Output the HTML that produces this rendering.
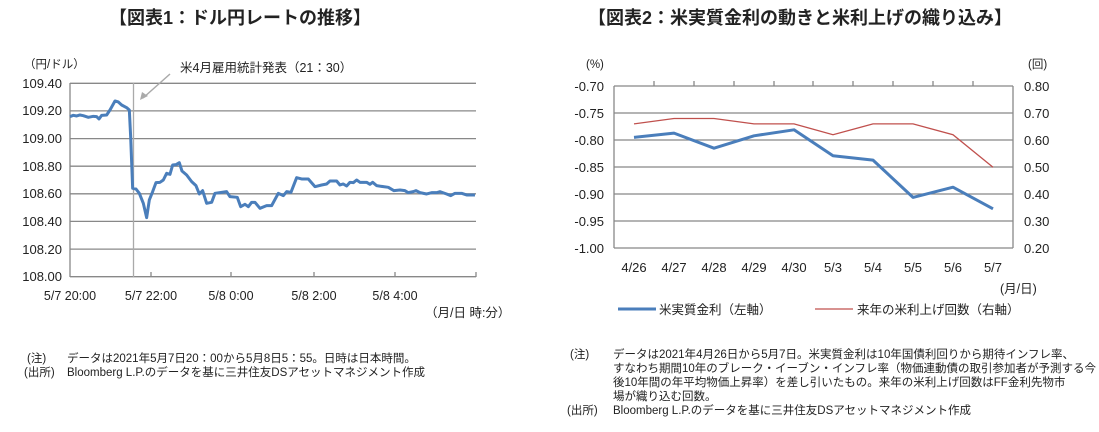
<!DOCTYPE html><html><head><meta charset="utf-8"><style>
body{margin:0;background:#fff;width:1099px;height:427px;overflow:hidden}
text{font-family:"Liberation Sans","Noto Sans CJK JP",sans-serif;fill:#222}
</style></head><body>
<svg width="1099" height="427" viewBox="0 0 1099 427" xmlns="http://www.w3.org/2000/svg">
<text x="240" y="24" font-size="18" font-weight="bold" text-anchor="middle">【図表1：ドル円レートの推移】</text>
<text x="800" y="24" font-size="18" font-weight="bold" text-anchor="middle">【図表2：米実質金利の動きと米利上げの織り込み】</text>
<g stroke="#888" stroke-width="1.3">
<line x1="70" x2="476" y1="83.3" y2="83.3"/><line x1="70" x2="476" y1="110.9" y2="110.9"/><line x1="70" x2="476" y1="138.6" y2="138.6"/><line x1="70" x2="476" y1="166.2" y2="166.2"/><line x1="70" x2="476" y1="193.8" y2="193.8"/><line x1="70" x2="476" y1="221.4" y2="221.4"/><line x1="70" x2="476" y1="249.1" y2="249.1"/><line x1="70" x2="476" y1="276.7" y2="276.7"/>
<line x1="70" x2="70" y1="83" y2="277"/>
<line x1="151" x2="151" y1="277" y2="272"/><line x1="231" x2="231" y1="277" y2="272"/><line x1="314" x2="314" y1="277" y2="272"/><line x1="395" x2="395" y1="277" y2="272"/><line x1="476" x2="476" y1="277" y2="272"/>
</g>
<line x1="133.5" x2="133.5" y1="83" y2="277" stroke="#aaa" stroke-width="1.3"/>
<line x1="170" y1="74" x2="143" y2="98" stroke="#aaa" stroke-width="1.5"/>
<polygon points="140,100 142,92 148,96" fill="#aaa"/>
<text x="180" y="72" font-size="12.5">米4月雇用統計発表（21：30）</text>
<g font-size="13" text-anchor="end"><text x="62" y="88">109.40</text><text x="62" y="115">109.20</text><text x="62" y="143">109.00</text><text x="62" y="171">108.80</text><text x="62" y="198">108.60</text><text x="62" y="226">108.40</text><text x="62" y="254">108.20</text><text x="62" y="281">108.00</text></g>
<text x="24" y="68" font-size="11.5">（円/ドル）</text>
<g font-size="12.5" text-anchor="middle"><text x="70" y="300">5/7 20:00</text><text x="151" y="300">5/7 22:00</text><text x="231" y="300">5/8 0:00</text><text x="314" y="300">5/8 2:00</text><text x="395" y="300">5/8 4:00</text></g>
<text x="425" y="317" font-size="12.5">（月/日 時:分）</text>
<g transform="translate(0,40) scale(0.3333)"><polyline fill="none" stroke="#4a7ebb" stroke-width="3" vector-effect="non-scaling-stroke" stroke-linejoin="round" points="210,230 220,226 230,228 240,225 250,227 265,232 280,229 290,230 297,237 305,226 320,225 330,210 345,183 355,186 365,195 380,203 388,210 392,290 398,445 408,447 418,460 430,490 440,533 448,480 458,455 468,428 480,427 490,420 500,400 510,403 518,375 528,374 538,368 546,393 560,405 575,425 588,437 598,462 608,452 620,490 635,487 645,460 660,458 680,455 690,470 712,472 722,500 735,493 745,500 755,487 765,487 780,505 800,497 815,497 835,460 850,467 860,455 873,457 890,413 905,417 925,417 945,440 965,435 980,432 990,423 1010,423 1020,435 1030,432 1040,438 1050,427 1060,428 1070,420 1080,427 1100,427 1110,433 1118,427 1130,437 1150,440 1165,442 1182,452 1200,450 1215,452 1225,458 1240,455 1248,452 1260,458 1280,462 1295,458 1310,458 1320,455 1340,462 1352,467 1365,460 1385,460 1400,465 1425,465"/></g>
<g font-size="11.5"><text x="27" y="362">(注)</text><text x="67" y="362">データは2021年5月7日20：00から5月8日5：55。日時は日本時間。</text><text x="24" y="376">(出所)</text><text x="67" y="376">Bloomberg L.P.のデータを基に三井住友DSアセットマネジメント作成</text></g>

<g stroke="#888" stroke-width="1.3">
<line x1="614" x2="1013" y1="86" y2="86"/><line x1="614" x2="1013" y1="113" y2="113"/><line x1="614" x2="1013" y1="140" y2="140"/><line x1="614" x2="1013" y1="167" y2="167"/><line x1="614" x2="1013" y1="194" y2="194"/><line x1="614" x2="1013" y1="221" y2="221"/><line x1="614" x2="1013" y1="248" y2="248"/>
<line x1="614" x2="614" y1="86" y2="248"/><line x1="1013" x2="1013" y1="86" y2="248"/>
<line x1="654" x2="654" y1="86" y2="81"/><line x1="694" x2="694" y1="86" y2="81"/><line x1="734" x2="734" y1="86" y2="81"/><line x1="774" x2="774" y1="86" y2="81"/><line x1="813" x2="813" y1="86" y2="81"/><line x1="853" x2="853" y1="86" y2="81"/><line x1="893" x2="893" y1="86" y2="81"/><line x1="933" x2="933" y1="86" y2="81"/><line x1="973" x2="973" y1="86" y2="81"/>
</g>
<g font-size="13" text-anchor="end"><text x="604" y="91">-0.70</text><text x="604" y="118">-0.75</text><text x="604" y="145">-0.80</text><text x="604" y="172">-0.85</text><text x="604" y="199">-0.90</text><text x="604" y="226">-0.95</text><text x="604" y="253">-1.00</text></g>
<g font-size="13"><text x="1024" y="91">0.80</text><text x="1024" y="118">0.70</text><text x="1024" y="145">0.60</text><text x="1024" y="172">0.50</text><text x="1024" y="199">0.40</text><text x="1024" y="226">0.30</text><text x="1024" y="253">0.20</text></g>
<text x="586" y="68" font-size="11.5">(%)</text><text x="1028" y="68" font-size="11.5">(回)</text>
<g font-size="13" text-anchor="middle"><text x="634" y="272">4/26</text><text x="674" y="272">4/27</text><text x="714" y="272">4/28</text><text x="754" y="272">4/29</text><text x="794" y="272">4/30</text><text x="833" y="272">5/3</text><text x="873" y="272">5/4</text><text x="913" y="272">5/5</text><text x="953" y="272">5/6</text><text x="993" y="272">5/7</text></g>
<text x="1000" y="293" font-size="12.5">(月/日)</text>
<polyline fill="none" stroke="#c0504d" stroke-width="1.3" points="634,123.9 674,118.5 714,118.5 754,123.9 794,123.9 833,134.7 873,123.9 913,123.9 953,134.7 993,167.2"/>
<polyline fill="none" stroke="#4a7ebb" stroke-width="3" stroke-linejoin="round" points="634,137.4 674,133.1 714,148.2 754,135.8 794,129.8 833,155.8 873,160.1 913,197.4 953,187.2 993,208.8"/>
<line x1="618" x2="656" y1="309" y2="309" stroke="#4a7ebb" stroke-width="3"/>
<text x="659" y="314" font-size="12.5">米実質金利（左軸）</text>
<line x1="815" x2="853" y1="309" y2="309" stroke="#c0504d" stroke-width="1.3"/>
<text x="857" y="314" font-size="12.5">来年の米利上げ回数（右軸）</text>
<g font-size="11.5"><text x="570" y="358">(注)</text><text x="613" y="358">データは2021年4月26日から5月7日。米実質金利は10年国債利回りから期待インフレ率、</text>
<text x="613" y="372">すなわち期間10年のブレーク・イーブン・インフレ率（物価連動債の取引参加者が予測する今</text>
<text x="613" y="386">後10年間の年平均物価上昇率）を差し引いたもの。来年の米利上げ回数はFF金利先物市</text>
<text x="613" y="400">場が織り込む回数。</text>
<text x="567" y="414">(出所)</text><text x="613" y="414">Bloomberg L.P.のデータを基に三井住友DSアセットマネジメント作成</text></g>
</svg>
</body></html>
